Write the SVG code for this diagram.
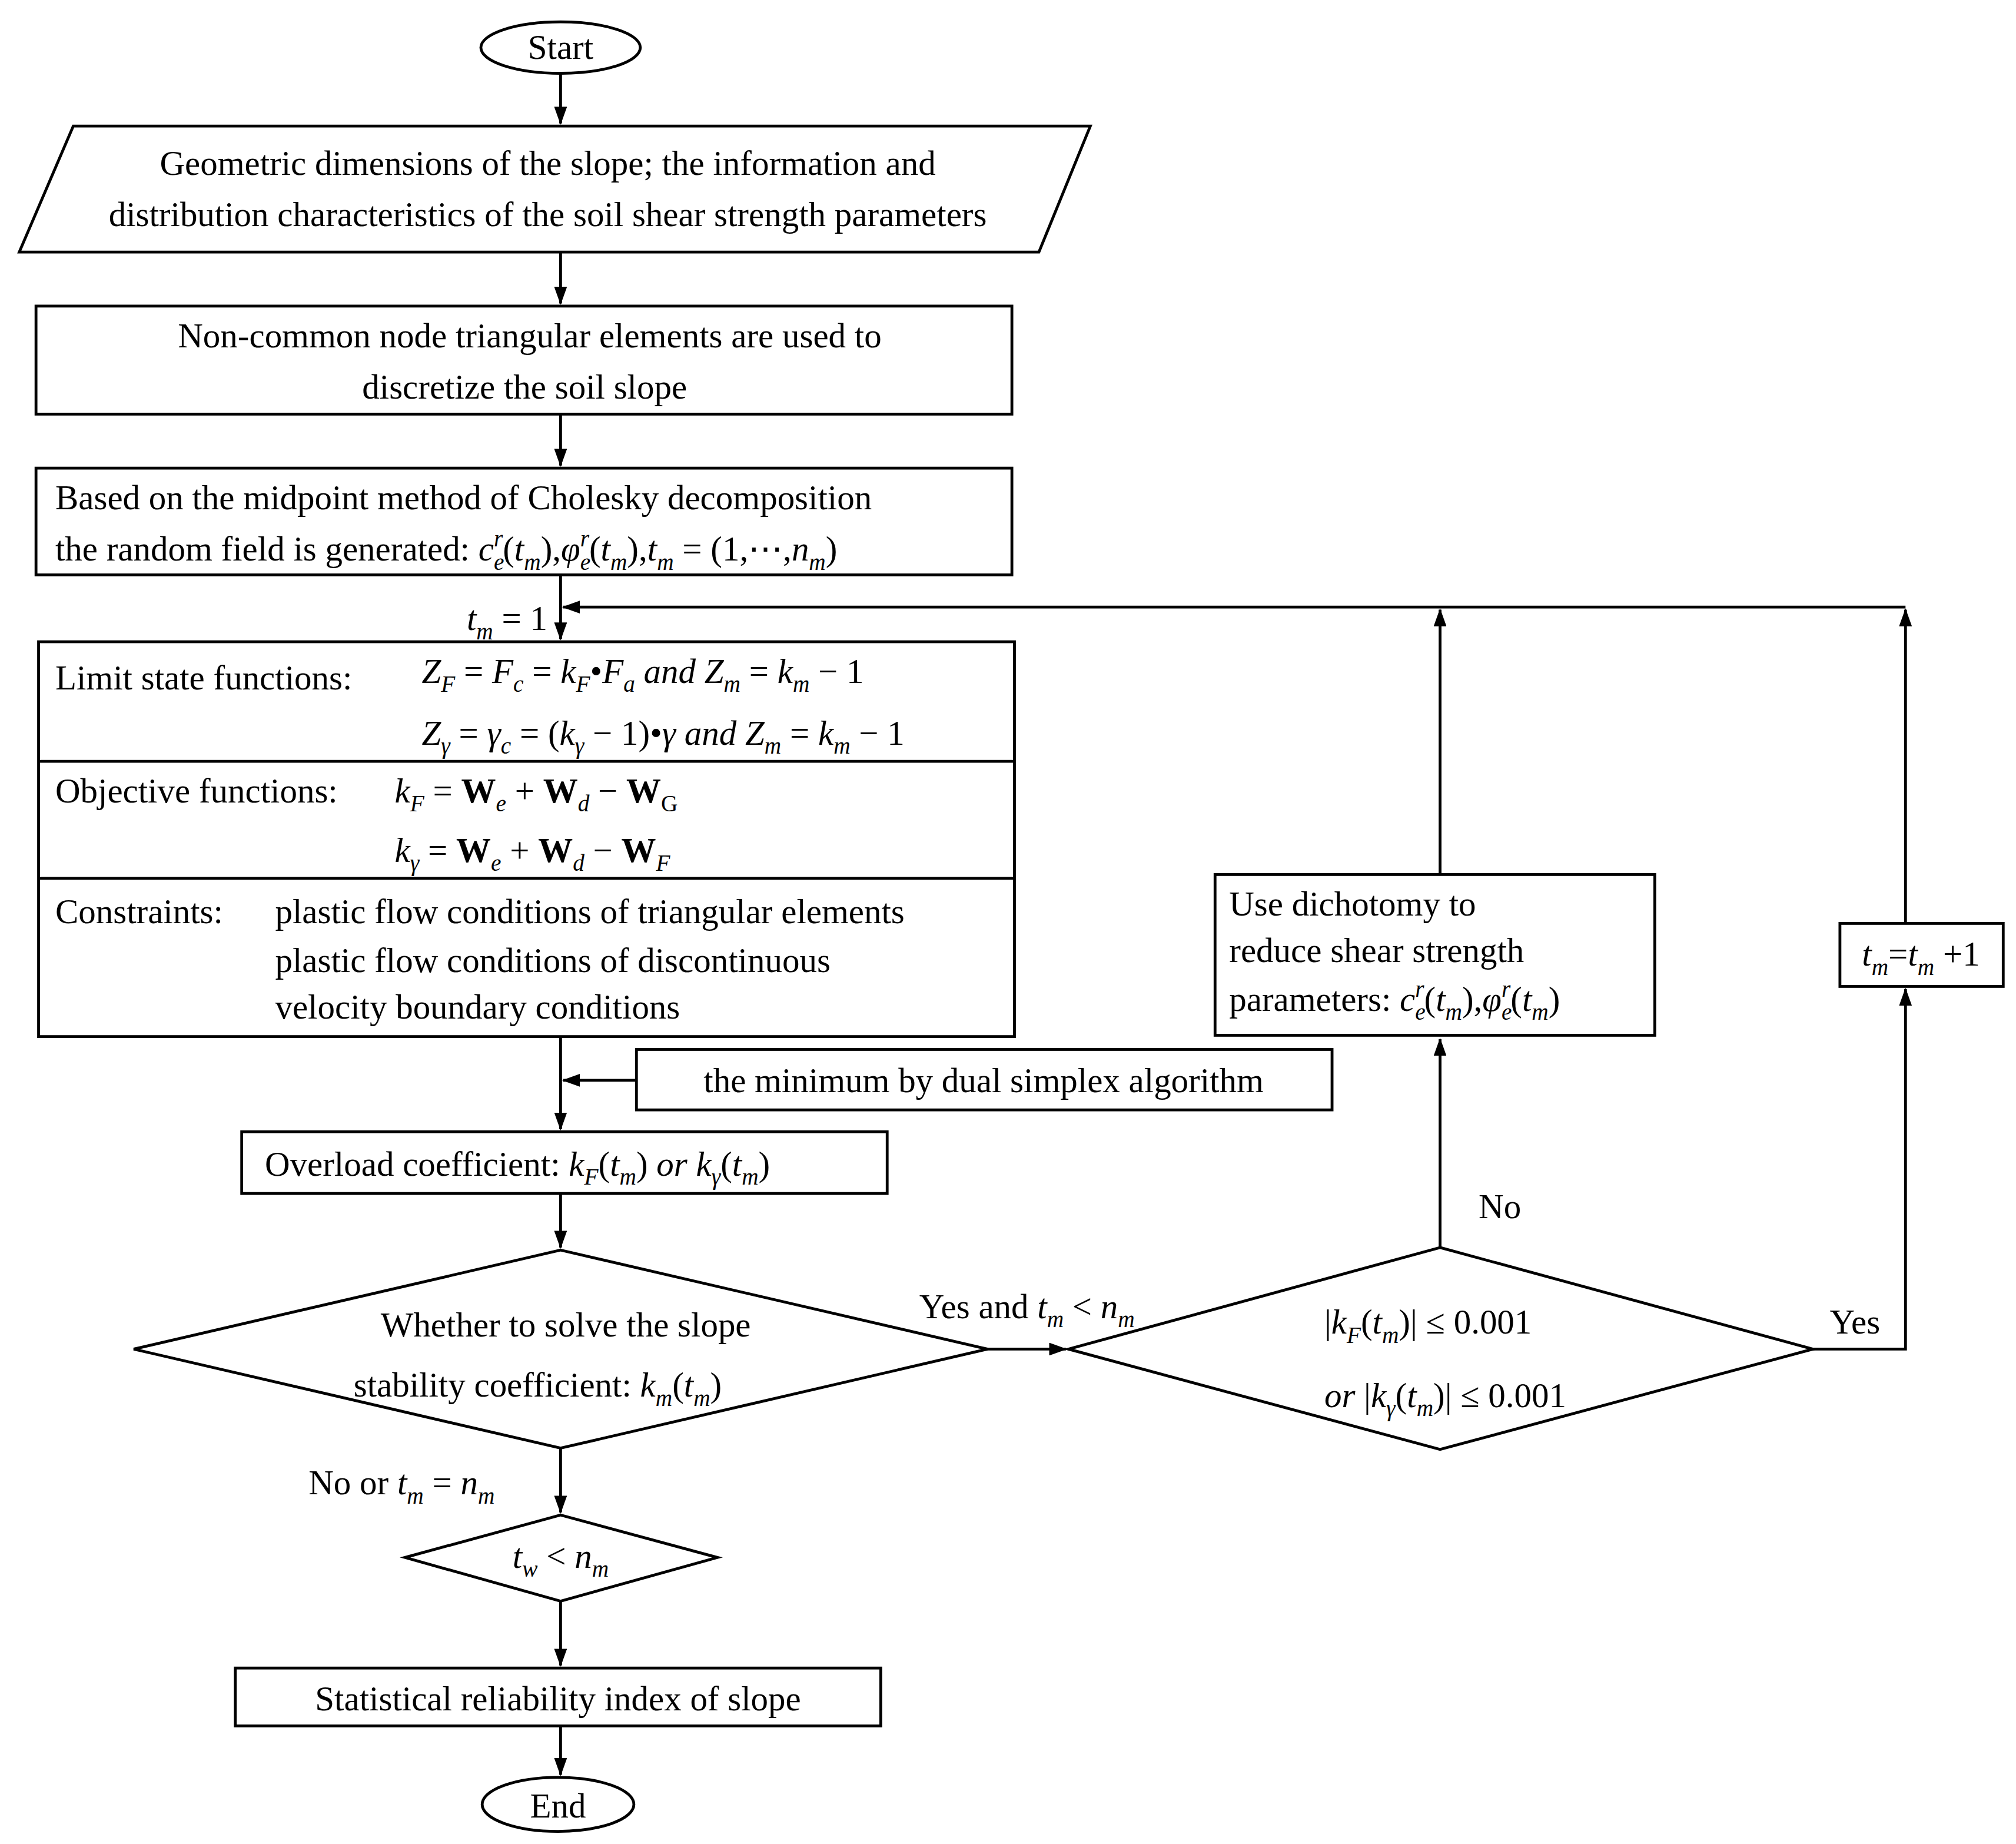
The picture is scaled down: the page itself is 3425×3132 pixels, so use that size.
<svg xmlns="http://www.w3.org/2000/svg" width="3425" height="3132" viewBox="0 0 3425 3132">
<style>
.s{fill:#fff;stroke:#000;stroke-width:2.2}
.l{fill:none;stroke:#000;stroke-width:2.2}
text{font-family:"Liberation Serif","Times New Roman",serif;font-size:27px;fill:#000}
.i{font-style:italic}
.b{font-weight:bold}
.sb{font-size:18px}
</style>
<defs>
<marker id="a" markerWidth="14" markerHeight="10" refX="13" refY="5" orient="auto" markerUnits="userSpaceOnUse"><path d="M0,0L14,5L0,10Z" fill="#000"/></marker>
</defs>
<rect width="3425" height="3132" fill="#fff"/>
<g transform="scale(2.1844)">
<g id="connectors">
<path class="l" d="M436,57V96" marker-end="url(#a)"/>
<path class="l" d="M436,196V236" marker-end="url(#a)"/>
<path class="l" d="M436,322V362" marker-end="url(#a)"/>
<path class="l" d="M436,447V497" marker-end="url(#a)"/>
<path class="l" d="M436,806V878" marker-end="url(#a)"/>
<path class="l" d="M495,840H438" marker-end="url(#a)"/>
<path class="l" d="M436,928V970" marker-end="url(#a)"/>
<path class="l" d="M768,1049H829" marker-end="url(#a)"/>
<path class="l" d="M1120,970V808" marker-end="url(#a)"/>
<path class="l" d="M1120,680V474" marker-end="url(#a)"/>
<path class="l" d="M1482,472H438" marker-end="url(#a)"/>
<path class="l" d="M1410,1049H1482V769" marker-end="url(#a)"/>
<path class="l" d="M1482,718V474" marker-end="url(#a)"/>
<path class="l" d="M436,1126V1176" marker-end="url(#a)"/>
<path class="l" d="M436,1245V1295" marker-end="url(#a)"/>
<path class="l" d="M436,1342V1380" marker-end="url(#a)"/>
</g>
<g id="start"><ellipse class="s" cx="436" cy="37" rx="62" ry="20"/><text x="436" y="46" text-anchor="middle">Start</text></g>
<g id="input"><path class="s" d="M57,98H848L808,196H15Z"/>
<text x="426" y="136" text-anchor="middle">Geometric dimensions of the slope; the information and</text>
<text x="426" y="176" text-anchor="middle">distribution characteristics of the soil shear strength parameters</text></g>
<g id="discretize"><rect class="s" x="28" y="238" width="759" height="84"/>
<text x="412" y="270" text-anchor="middle">Non-common node triangular elements are used to</text>
<text x="408" y="310" text-anchor="middle">discretize the soil slope</text></g>
<g id="random"><rect class="s" x="28" y="364" width="759" height="83"/>
<text x="43" y="396">Based on the midpoint method of Cholesky decomposition</text>
<text x="43" y="436">the random field is generated: <tspan class="i">c</tspan><tspan class="sb i" dy="7">e</tspan><tspan class="sb i" dx="-8" dy="-18">r</tspan><tspan dy="11">(</tspan><tspan class="i">t</tspan><tspan class="sb i" dy="7">m</tspan><tspan dy="-7">),</tspan><tspan class="i">φ</tspan><tspan class="sb i" dy="7">e</tspan><tspan class="sb i" dx="-8" dy="-18">r</tspan><tspan dy="11">(</tspan><tspan class="i">t</tspan><tspan class="sb i" dy="7">m</tspan><tspan dy="-7">),</tspan><tspan class="i">t</tspan><tspan class="sb i" dy="7">m</tspan><tspan dy="-7"> = (1,⋯,</tspan><tspan class="i">n</tspan><tspan class="sb i" dy="7">m</tspan><tspan dy="-7">)</tspan></text></g>
<g id="tm1"><text x="363" y="490"><tspan class="i">t</tspan><tspan class="sb i" dy="7">m</tspan><tspan dy="-7"> = 1</tspan></text></g>
<g id="model"><rect class="s" x="30" y="499" width="759" height="307"/>
<path class="l" d="M30,592H789M30,683H789"/>
<text x="43" y="536">Limit state functions:</text>
<text x="328" y="531" class="i">Z<tspan class="sb" dy="7">F</tspan><tspan dy="-7" font-style="normal"> = </tspan>F<tspan class="sb" dy="7">c</tspan><tspan dy="-7" font-style="normal"> = </tspan>k<tspan class="sb" dy="7">F</tspan><tspan dy="-7" font-style="normal">•</tspan>F<tspan class="sb" dy="7">a</tspan><tspan dy="-7"> and </tspan>Z<tspan class="sb" dy="7">m</tspan><tspan dy="-7" font-style="normal"> = </tspan>k<tspan class="sb" dy="7">m</tspan><tspan dy="-7" font-style="normal"> − 1</tspan></text>
<text x="328" y="579" class="i">Z<tspan class="sb" dy="7">γ</tspan><tspan dy="-7" font-style="normal"> = </tspan>γ<tspan class="sb" dy="7">c</tspan><tspan dy="-7" font-style="normal"> = (</tspan>k<tspan class="sb" dy="7">γ</tspan><tspan dy="-7" font-style="normal"> − 1)•</tspan>γ and Z<tspan class="sb" dy="7">m</tspan><tspan dy="-7" font-style="normal"> = </tspan>k<tspan class="sb" dy="7">m</tspan><tspan dy="-7" font-style="normal"> − 1</tspan></text>
<text x="43" y="624">Objective functions:</text>
<text x="307" y="624"><tspan class="i">k</tspan><tspan class="sb i" dy="7">F</tspan><tspan dy="-7"> = </tspan><tspan class="b">W</tspan><tspan class="sb i" dy="7">e</tspan><tspan dy="-7"> + </tspan><tspan class="b">W</tspan><tspan class="sb i" dy="7">d</tspan><tspan dy="-7"> − </tspan><tspan class="b">W</tspan><tspan class="sb" dy="7">G</tspan></text>
<text x="307" y="670"><tspan class="i">k</tspan><tspan class="sb i" dy="7">γ</tspan><tspan dy="-7"> = </tspan><tspan class="b">W</tspan><tspan class="sb i" dy="7">e</tspan><tspan dy="-7"> + </tspan><tspan class="b">W</tspan><tspan class="sb i" dy="7">d</tspan><tspan dy="-7"> − </tspan><tspan class="b">W</tspan><tspan class="sb i" dy="7">F</tspan></text>
<text x="43" y="718">Constraints:</text>
<text x="214" y="718">plastic flow conditions of triangular elements</text>
<text x="214" y="756">plastic flow conditions of discontinuous</text>
<text x="214" y="792">velocity boundary conditions</text></g>
<g id="dual"><rect class="s" x="495" y="816" width="541" height="47"/><text x="765" y="849" text-anchor="middle">the minimum by dual simplex algorithm</text></g>
<g id="overload"><rect class="s" x="188" y="880" width="502" height="48"/>
<text x="206" y="914">Overload coefficient: <tspan class="i">k</tspan><tspan class="sb i" dy="7">F</tspan><tspan dy="-7">(</tspan><tspan class="i">t</tspan><tspan class="sb i" dy="7">m</tspan><tspan dy="-7">) </tspan><tspan class="i">or k</tspan><tspan class="sb i" dy="7">γ</tspan><tspan dy="-7">(</tspan><tspan class="i">t</tspan><tspan class="sb i" dy="7">m</tspan><tspan dy="-7">)</tspan></text></g>
<g id="decide1"><path class="s" d="M436,972L768,1049L436,1126L104,1049Z"/>
<text x="440" y="1039" text-anchor="middle">Whether to solve the slope</text>
<text x="275" y="1086">stability coefficient: <tspan class="i">k</tspan><tspan class="sb i" dy="7">m</tspan><tspan dy="-7">(</tspan><tspan class="i">t</tspan><tspan class="sb i" dy="7">m</tspan><tspan dy="-7">)</tspan></text></g>
<g id="decide2"><path class="s" d="M1120,970L1410,1049L1120,1127L831,1049Z"/>
<text x="1030" y="1037">|<tspan class="i">k</tspan><tspan class="sb i" dy="7">F</tspan><tspan dy="-7">(</tspan><tspan class="i">t</tspan><tspan class="sb i" dy="7">m</tspan><tspan dy="-7">)| ≤ 0.001</tspan></text>
<text x="1030" y="1094"><tspan class="i">or </tspan> |<tspan class="i">k</tspan><tspan class="sb i" dy="7">γ</tspan><tspan dy="-7">(</tspan><tspan class="i">t</tspan><tspan class="sb i" dy="7">m</tspan><tspan dy="-7">)| ≤ 0.001</tspan></text></g>
<g id="reduce"><rect class="s" x="945" y="680" width="342" height="125"/>
<text x="956" y="712">Use dichotomy to</text>
<text x="956" y="748">reduce shear strength</text>
<text x="956" y="786">parameters: <tspan class="i">c</tspan><tspan class="sb i" dy="7">e</tspan><tspan class="sb i" dx="-8" dy="-18">r</tspan><tspan dy="11">(</tspan><tspan class="i">t</tspan><tspan class="sb i" dy="7">m</tspan><tspan dy="-7">),</tspan><tspan class="i">φ</tspan><tspan class="sb i" dy="7">e</tspan><tspan class="sb i" dx="-8" dy="-18">r</tspan><tspan dy="11">(</tspan><tspan class="i">t</tspan><tspan class="sb i" dy="7">m</tspan><tspan dy="-7">)</tspan></text></g>
<g id="incr"><rect class="s" x="1431" y="718" width="127" height="49"/>
<text x="1494" y="751" text-anchor="middle"><tspan class="i">t</tspan><tspan class="sb i" dy="7">m</tspan><tspan dy="-7">=</tspan><tspan class="i">t</tspan><tspan class="sb i" dy="7">m</tspan><tspan dy="-7"> +1</tspan></text></g>
<g id="labels">
<text x="1150" y="947">No</text>
<text x="1423" y="1037">Yes</text>
<text x="715" y="1025">Yes and <tspan class="i">t</tspan><tspan class="sb i" dy="7">m</tspan><tspan dy="-7"> &lt; </tspan><tspan class="i">n</tspan><tspan class="sb i" dy="7">m</tspan></text>
<text x="240" y="1162">No or <tspan class="i">t</tspan><tspan class="sb i" dy="7">m</tspan><tspan dy="-7"> = </tspan><tspan class="i">n</tspan><tspan class="sb i" dy="7">m</tspan></text>
</g>
<g id="decide3"><path class="s" d="M436,1178L558,1211L436,1245L315,1211Z"/>
<text x="436" y="1219" text-anchor="middle"><tspan class="i">t</tspan><tspan class="sb i" dy="7">w</tspan><tspan dy="-7"> &lt; </tspan><tspan class="i">n</tspan><tspan class="sb i" dy="7">m</tspan></text></g>
<g id="result"><rect class="s" x="183" y="1297" width="502" height="45"/><text x="434" y="1330" text-anchor="middle">Statistical reliability index of slope</text></g>
<g id="end"><ellipse class="s" cx="434" cy="1403" rx="59" ry="21"/><text x="434" y="1413" text-anchor="middle">End</text></g>
</g>
</svg>
